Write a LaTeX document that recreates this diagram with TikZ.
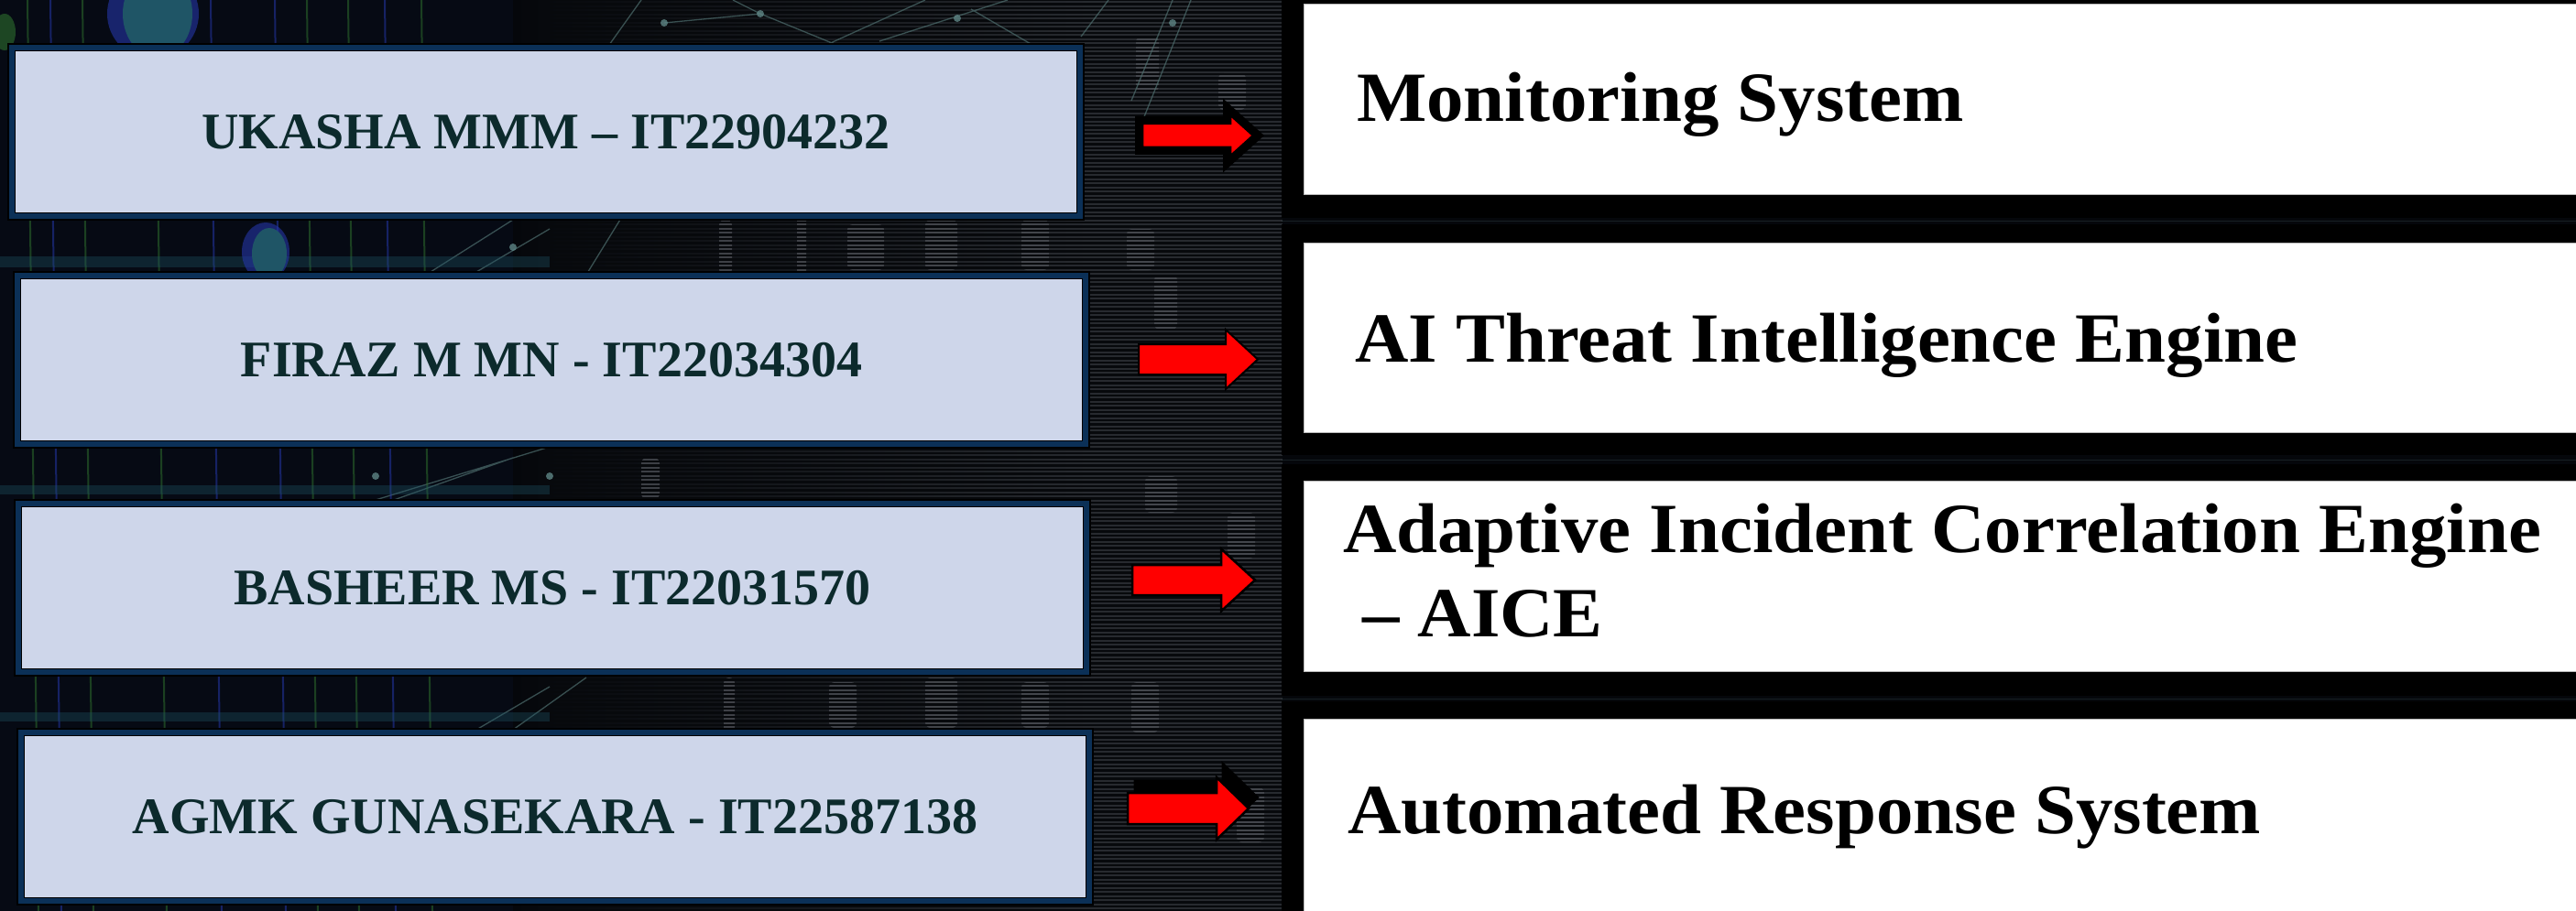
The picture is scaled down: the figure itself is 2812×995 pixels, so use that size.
\documentclass[tikz,border=0pt]{standalone}
\usepackage{fontspec}
\newfontfamily\capsface{Liberation Serif}
\newfontfamily\titleface[FakeStretch=1.05]{Liberation Serif}
\usetikzlibrary{calc}

\definecolor{bgbase}{HTML}{05070B}
\definecolor{bgleft}{HTML}{060A14}
\definecolor{midgrey}{HTML}{272A2F}
\definecolor{blobgrey}{HTML}{4D5056}
\definecolor{scangap}{HTML}{07090C}
\definecolor{netline}{HTML}{4E6E6E}
\definecolor{netdot}{HTML}{5E8585}
\definecolor{glowgreen}{HTML}{2D6E2D}
\definecolor{glowblue}{HTML}{2436A8}
\definecolor{bokeh}{HTML}{1F5566}
\definecolor{navyband}{HTML}{0B3057}
\definecolor{lavender}{HTML}{CED6EA}
\definecolor{memberink}{HTML}{0C2A2C}
\definecolor{arrowred}{HTML}{FF0000}

% block arrow: style, tail x, centre y, body half-width, head base x, head half-width, tip x
\newcommand\blockarrow[7]{%
  \path[#1] ({#2},{#3-#4}) -- ({#5},{#3-#4}) -- ({#5},{#3-#6}) -- ({#7},{#3})
    -- ({#5},{#3+#6}) -- ({#5},{#3+#4}) -- ({#2},{#3+#4}) -- cycle;}

\tikzset{
  memberbox/.style={
    preaction={draw=black, line width=17pt},
    preaction={draw=navyband, line width=13pt},
    draw=black, line width=1.5pt, fill=lavender,
    minimum width=1159pt, minimum height=177pt, inner sep=0pt,
    text=memberink, font=\capsface\bfseries\fontsize{56}{60}\selectfont},
  modulebox/.style={draw=gray!55, line width=1pt, fill=white,
    anchor=north west, minimum width=1389pt, inner sep=0pt},
  moduletext/.style={anchor=base west, inner sep=0pt, align=left,
    text=black, font=\titleface\bfseries\fontsize{77}{92}\selectfont},
  backing/.style={fill=black},
  redarrow/.style={fill=arrowred, draw=black, line width=2.5pt, miter limit=6},
  scanline/.style={draw=scangap, line width=2.2pt},
  net/.style={draw=netline, line width=1.3pt, opacity=.7},
  glowline/.style={line width=2pt, opacity=.55},
}

\begin{document}
\begin{tikzpicture}[x=1pt, y=-1pt]
\useasboundingbox (0,0) rectangle (2812,995);
\clip (0,0) rectangle (2812,995);

% ---- backdrop ----
\fill[bgbase] (0,0) rectangle (2812,995);
\fill[bgleft] (0,0) rectangle (600,995);
\shade[left color=bgbase, right color=midgrey] (560,0) rectangle (1190,995);
\fill[midgrey] (1190,0) rectangle (1400,995);

% lighter machinery shapes behind the scan lines
\foreach \bx/\by/\bw/\bh in {785/240/14/60, 870/235/10/70, 925/245/40/50, 1010/240/35/55,
    1115/240/30/55, 1230/250/30/45, 790/740/12/60, 905/745/30/50, 1010/740/35/55,
    1115/745/30/50, 1235/745/30/55, 1240/40/25/60, 1330/80/30/40, 1250/520/35/40,
    1340/560/30/50, 700/500/20/45, 1260/300/25/60, 1350/860/30/60}
  \fill[blobgrey, opacity=.75, rounded corners=6pt] (\bx,\by) rectangle ++(\bw,\bh);

% scan lines over the middle band
\foreach \yy in {0,4.5,...,995}
  \draw[scanline] (600,\yy) -- (1400,\yy);

% network strands
\draw[net] (600,140) -- (700,0) (640,300) -- (720,170) (725,25) -- (830,15)
  (830,15) -- (940,60) (830,15) -- (800,0) (900,50) -- (1010,0) (960,45) -- (1100,0)
  (1060,10) -- (1180,80) (1180,40) -- (1210,0) (1235,110) -- (1280,0)
  (470,297) -- (560,240) (520,297) -- (600,250) (430,546) -- (560,500) (410,546) -- (600,488)
  (520,797) -- (600,750) (560,797) -- (640,740) (1240,150) -- (1300,0);
\foreach \dx/\dy in {725/25, 830/15, 1045/20, 1280/25, 560/270, 410/520, 600/520}
  \fill[netdot, opacity=.8] (\dx,\dy) circle (4pt);

% coloured glows on the left
\foreach \gx/\gc in {30/glowgreen, 55/glowblue, 90/glowgreen, 170/glowgreen, 230/glowblue,
    300/glowblue, 335/glowgreen, 380/glowgreen, 420/glowblue, 460/glowgreen}
  \draw[glowline, draw=\gc] (\gx,0) -- (\gx+12,995);
\fill[bokeh, opacity=.35] (0,280) rectangle (600,292);
\fill[bokeh, opacity=.35] (0,530) rectangle (600,540);
\fill[bokeh, opacity=.35] (0,778) rectangle (600,788);
\fill[glowblue, opacity=.6] (167,15) ellipse (50pt and 50pt);
\fill[bokeh] (172,15) ellipse (38pt and 48pt);
\fill[glowgreen, opacity=.6] (5,35) ellipse (12pt and 20pt);
\fill[glowblue, opacity=.6] (290,275) ellipse (26pt and 32pt);
\fill[bokeh] (294,277) ellipse (19pt and 28pt);

% ---- dark panels behind the module boxes ----
\fill[backing] (1399,0) rectangle (2812,238);
\fill[backing] (1399,245) rectangle (2812,497);
\fill[backing] (1399,507) rectangle (2812,760);
\fill[backing] (1399,766) rectangle (2812,995);
\draw[netline, opacity=.25, line width=1pt] (1399,241) -- (2812,241)
  (1399,502) -- (2812,502) (1399,763) -- (2812,763);

% ---- member boxes ----
\node[memberbox] (m1) at (596,144) {UKASHA MMM – IT22904232};
\node[memberbox] (m2) at (602,393) {FIRAZ M MN - IT22034304};
\node[memberbox] (m3) at (603,642) {BASHEER MS - IT22031570};
\node[memberbox] (m4) at (606,892) {AGMK GUNASEKARA - IT22587138};

% ---- module boxes ----
\node[modulebox, minimum height=208pt] (w1) at (1423,4) {};
\node[modulebox, minimum height=207pt] (w2) at (1423,265) {};
\node[modulebox, minimum height=208pt] (w3) at (1423,525) {};
\node[modulebox, minimum height=212pt] (w4) at (1423,785) {};

\node[moduletext] (t1) at (1481,133) {Monitoring System};
\node[moduletext] (t2) at (1479,395) {AI Threat Intelligence Engine};
% base anchor of a two-line node sits on its last line
\node[moduletext] (t3) at (1466,695) {Adaptive Incident Correlation Engine\\\hspace*{0.27em}– AICE};
\node[moduletext] (t4) at (1471,910) {Automated Response System};

% ---- arrows ----
\blockarrow{redarrow, preaction={draw=black, line width=16pt, miter limit=6}}{1247}{148}{13}{1343}{22.5}{1368}
\blockarrow{redarrow, line width=2pt}{1243}{392.5}{16.5}{1338}{32.5}{1373}
\blockarrow{redarrow}{1236}{633.5}{16.5}{1333}{34}{1370}
\blockarrow{fill=black, draw=black, line width=5pt}{1240}{871}{17}{1336}{34}{1371}
\blockarrow{redarrow}{1231}{883}{17}{1328}{34}{1363}
\end{tikzpicture}
\end{document}
